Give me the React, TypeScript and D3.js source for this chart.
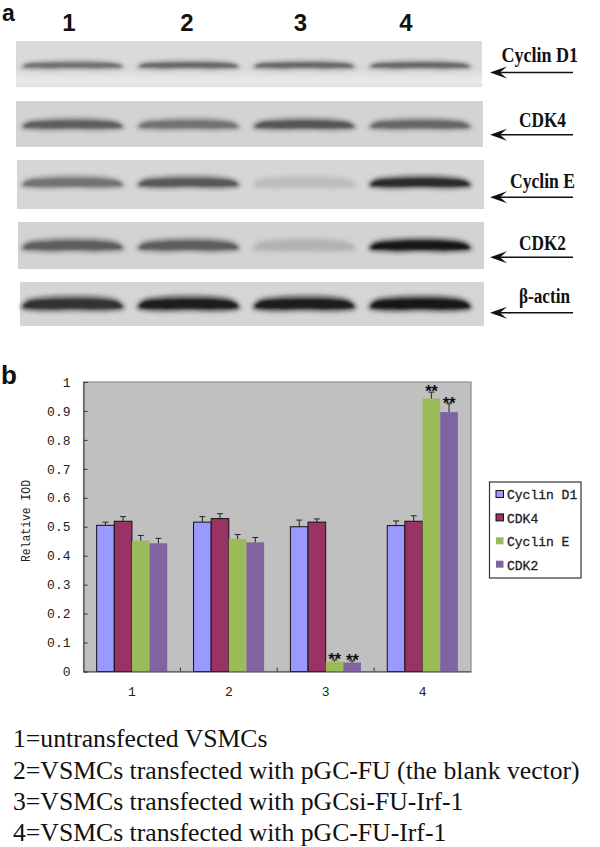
import React, { useEffect, useRef } from "react";
import * as d3 from "d3";

// ---------- data ----------
const groups = ["1", "2", "3", "4"];
const seriesNames = ["Cyclin D1", "CDK4", "Cyclin E", "CDK2"];
const seriesColors = ["#9999ff", "#993366", "#9bbb59", "#8064a2"];
const seriesOutlined = [true, true, false, false];
const cyclinD1 = [0.505, 0.516, 0.5, 0.504];
const cdk4 = [0.519, 0.528, 0.516, 0.519];
const cyclinE = [0.452, 0.458, 0.034, 0.943];
const cdk2 = [0.443, 0.446, 0.031, 0.896];
const cyclinD1Top = [0.516, 0.535, 0.523, 0.52];
const cdk4Top = [0.535, 0.545, 0.527, 0.538];
const cyclinETop = [0.47, 0.473, 0.04, 0.965];
const cdk2Top = [0.46, 0.463, 0.037, 0.925];
const values = [cyclinD1, cdk4, cyclinE, cdk2];
const tops = [cyclinD1Top, cdk4Top, cyclinETop, cdk2Top];
const starred = [[2, 2], [3, 2], [2, 3], [3, 3]]; // [series, group]
const yTicks = [0, 0.1, 0.2, 0.3, 0.4, 0.5, 0.6, 0.7, 0.8, 0.9, 1];

const blotNames = ["Cyclin D1", "CDK4", "Cyclin E", "CDK2", "β-actin"];
const blotD1 = [0.5, 0.55, 0.55, 0.55];
const blotCdk4 = [0.6, 0.48, 0.65, 0.55];
const blotE = [0.48, 0.62, 0.06, 0.88];
const blotCdk2 = [0.6, 0.6, 0.12, 1];
const blotActin = [0.85, 0.95, 0.95, 1];
const blotLevels = [blotD1, blotCdk4, blotE, blotCdk2, blotActin];
const legendNotes = [
  "1=untransfected VSMCs",
  "2=VSMCs transfected with pGC-FU (the blank vector)",
  "3=VSMCs transfected with pGCsi-FU-Irf-1",
  "4=VSMCs transfected with pGC-FU-Irf-1",
];

// ---------- layout ----------
const P = { l: 83.5, r: 471, t: 382, b: 671.5 };
const panels = [
  { x0: 16, x1: 482, y0: 41, y1: 87, band: 65.5, h: 7, bg: "#dadada", lx: 501.5, lw: 76.5, ly: 61.5, ay: 72.5 },
  { x0: 16, x1: 483, y0: 101, y1: 147, band: 125, h: 11, bg: "#d3d3d3", lx: 519, lw: 47, ly: 127, ay: 134.7 },
  { x0: 17, x1: 484, y0: 160, y1: 209, band: 183, h: 12, bg: "#d6d6d6", lx: 510, lw: 65, ly: 188, ay: 197.3 },
  { x0: 18, x1: 484, y0: 222, y1: 269, band: 246, h: 13, bg: "#d3d3d3", lx: 519, lw: 47, ly: 250, ay: 257.3 },
  { x0: 20, x1: 484, y0: 282, y1: 326, band: 304.5, h: 15, bg: "#d5d5d5", lx: 519, lw: 51, ly: 303, ay: 312.7 },
];
const laneLabelX = [69, 187, 300.5, 406];
const notesY = [747, 779, 810, 841];

const xGroup = d3.scaleBand<string>().domain(groups).range([P.l, P.r]).padding(0);
const xSeries = d3
  .scaleBand<string>()
  .domain(seriesNames)
  .range([0, xGroup.bandwidth()])
  .paddingInner(0)
  .paddingOuter(0.745);
const y = d3.scaleLinear().domain([0, 1]).range([P.b, P.t]);
const lane = d3.scaleBand<string>().domain(groups).range([16, 477]).paddingInner(0.1).paddingOuter(0.04);
const darkness = d3.scaleLinear<string>().domain([0, 1]).range(["#c8c8c8", "#151515"]);

const MONO = "'Liberation Mono', 'DejaVu Sans Mono', monospace";
const SERIF = "'Liberation Serif', serif";
const SANS = "'Liberation Sans', sans-serif";

function Axes() {
  const left = useRef<SVGGElement>(null);
  const bottom = useRef<SVGGElement>(null);
  useEffect(() => {
    if (left.current) {
      const g = d3.select(left.current);
      g.call(
        d3
          .axisLeft(y)
          .tickValues(yTicks)
          .tickSize(-4)
          .tickPadding(13)
          .tickFormat((d) => String(d)) as any
      );
      g.selectAll("text").attr("font-family", MONO).attr("font-size", 13).attr("fill", "#222");
      g.selectAll("line").attr("stroke", "#333");
      g.select(".domain").attr("stroke", "#555").attr("stroke-width", 1.2);
    }
    if (bottom.current) {
      const g = d3.select(bottom.current);
      g.call(d3.axisBottom(xGroup).tickSize(0).tickPadding(15) as any);
      g.selectAll("text").attr("font-family", MONO).attr("font-size", 13).attr("fill", "#222");
      g.select(".domain").attr("stroke", "#444").attr("stroke-width", 1.2);
    }
  }, []);
  return (
    <>
      <g ref={left} transform={`translate(${P.l},0)`} />
      <g ref={bottom} transform={`translate(0,${P.b})`} />
    </>
  );
}

function bandPath(x: number, w: number, cy: number, h: number) {
  const line = d3.line<[number, number]>().curve(d3.curveCatmullRomClosed);
  return (
    line([
      [x, cy + h * 0.22],
      [x + w * 0.05, cy - h * 0.25],
      [x + w * 0.25, cy - h * 0.48],
      [x + w * 0.5, cy - h * 0.55],
      [x + w * 0.78, cy - h * 0.48],
      [x + w * 0.95, cy - h * 0.22],
      [x + w, cy + h * 0.22],
      [x + w * 0.8, cy + h * 0.42],
      [x + w * 0.5, cy + h * 0.38],
      [x + w * 0.2, cy + h * 0.42],
    ]) || ""
  );
}

export default function App() {
  return (
    <svg
      width={600}
      height={847}
      viewBox="0 0 600 847"
      style={{ position: "absolute", left: 0, top: 0, background: "#fff" }}
    >
      <defs>
        <filter id="soft" x="-10%" y="-100%" width="120%" height="300%">
          <feGaussianBlur stdDeviation="1.2" />
        </filter>
        <filter id="softer" x="-10%" y="-100%" width="120%" height="300%">
          <feGaussianBlur stdDeviation="2" />
        </filter>
        <linearGradient id="glow" x1="0" x2="0" y1="0" y2="1">
          <stop offset="0" stopColor="#ffffff" stopOpacity={0} />
          <stop offset="0.7" stopColor="#ffffff" stopOpacity={0.45} />
          <stop offset="1" stopColor="#ffffff" stopOpacity={0.15} />
        </linearGradient>
      </defs>

      <text x={2} y={21} fontFamily={SANS} fontWeight="bold" fontSize={23} fill="#111">a</text>
      {groups.map((g, i) => (
        <text key={g} x={laneLabelX[i]} y={31} textAnchor="middle" fontFamily={SANS} fontWeight="bold" fontSize={24} fill="#111">
          {g}
        </text>
      ))}

      {panels.map((p, r) => (
        <g key={blotNames[r]}>
          <rect x={p.x0} y={p.y0} width={p.x1 - p.x0} height={p.y1 - p.y0} fill={p.bg} />
          {r === 0 && <rect x={p.x0} y={p.band + 4} width={p.x1 - p.x0} height={p.y1 - p.band - 4} fill="url(#glow)" />}
          {groups.map((g, i) => {
            const lv = blotLevels[r][i];
            const x = lane(g)!;
            const w = lane.bandwidth();
            return (
              <g key={g}>
                <path d={bandPath(x, w, p.band, p.h + 2)} fill={darkness(lv * 0.6)} filter="url(#softer)" />
                <path d={bandPath(x + 3, w - 6, p.band, p.h * 0.65)} fill={darkness(lv)} filter="url(#soft)" />
              </g>
            );
          })}
          <text
            x={p.lx}
            y={p.ly}
            textLength={p.lw}
            lengthAdjust="spacingAndGlyphs"
            fontFamily={SERIF}
            fontWeight="bold"
            fontSize={20}
            fill="#111"
          >
            {blotNames[r]}
          </text>
          <line x1={498} x2={573} y1={p.ay} y2={p.ay} stroke="#111" strokeWidth={1.5} />
          <path d={`M490,${p.ay} L507,${p.ay - 6} L500,${p.ay} L507,${p.ay + 6} Z`} fill="#111" />
        </g>
      ))}

      <text x={1} y={383.5} fontFamily={SANS} fontWeight="bold" fontSize={26} fill="#111">b</text>

      <rect x={P.l} y={P.t} width={P.r - P.l} height={P.b - P.t} fill="#c0c0c0" stroke="#8a8a8a" strokeWidth={1.2} />
      {seriesNames.map((s, si) =>
        groups.map((g, gi) => {
          const x = xGroup(g)! + xSeries(s)!;
          const w = xSeries.bandwidth();
          const cx = x + w / 2;
          const v = values[si][gi];
          const top = tops[si][gi];
          return (
            <g key={s + g}>
              <rect
                x={x}
                y={y(v)}
                width={w}
                height={y(0) - y(v)}
                fill={seriesColors[si]}
                stroke={seriesOutlined[si] ? "#111" : "none"}
                strokeWidth={1}
              />
              <line x1={cx} x2={cx} y1={y(v)} y2={y(top)} stroke="#222" strokeWidth={1} />
              <line x1={cx - 3} x2={cx + 3} y1={y(top)} y2={y(top)} stroke="#222" strokeWidth={1} />
            </g>
          );
        })
      )}
      {starred.map(([si, gi]) => (
        <text
          key={`${si}-${gi}`}
          x={xGroup(groups[gi])! + xSeries(seriesNames[si])! + xSeries.bandwidth() / 2}
          y={y(tops[si][gi]) + 5}
          textAnchor="middle"
          fontFamily={SANS}
          fontWeight="bold"
          fontSize={17}
          letterSpacing={-0.4}
          fill="#111"
        >
          **
        </text>
      ))}
      {[1, 2, 3].map((i) => (
        <line key={i} x1={xGroup(groups[i])!} x2={xGroup(groups[i])!} y1={P.b} y2={P.b - 4} stroke="#333" />
      ))}
      <Axes />

      <text
        transform="translate(30,521) rotate(-90)"
        textAnchor="middle"
        textLength={82}
        lengthAdjust="spacingAndGlyphs"
        fontFamily={MONO}
        fontSize={13}
        fill="#222"
      >
        Relative IOD
      </text>

      <rect x={489.5} y={482} width={91.5} height={96} fill="#fff" stroke="#333" strokeWidth={1.2} />
      {seriesNames.map((s, i) => (
        <g key={s}>
          <rect
            x={496}
            y={490.5 + i * 23.4}
            width={7.5}
            height={7}
            fill={seriesColors[i]}
            stroke={seriesOutlined[i] ? "#111" : "none"}
            strokeWidth={1}
          />
          <text
            x={507}
            y={499 + i * 23.6}
            fontFamily={MONO}
            fontSize={13}
            stroke="#222"
            strokeWidth={0.3}
            fill="#222"
          >
            {s}
          </text>
        </g>
      ))}

      {legendNotes.map((t, i) => (
        <text key={t} x={13} y={notesY[i]} fontFamily={SERIF} fontSize={25.7} fill="#111">
          {t}
        </text>
      ))}
    </svg>
  );
}
